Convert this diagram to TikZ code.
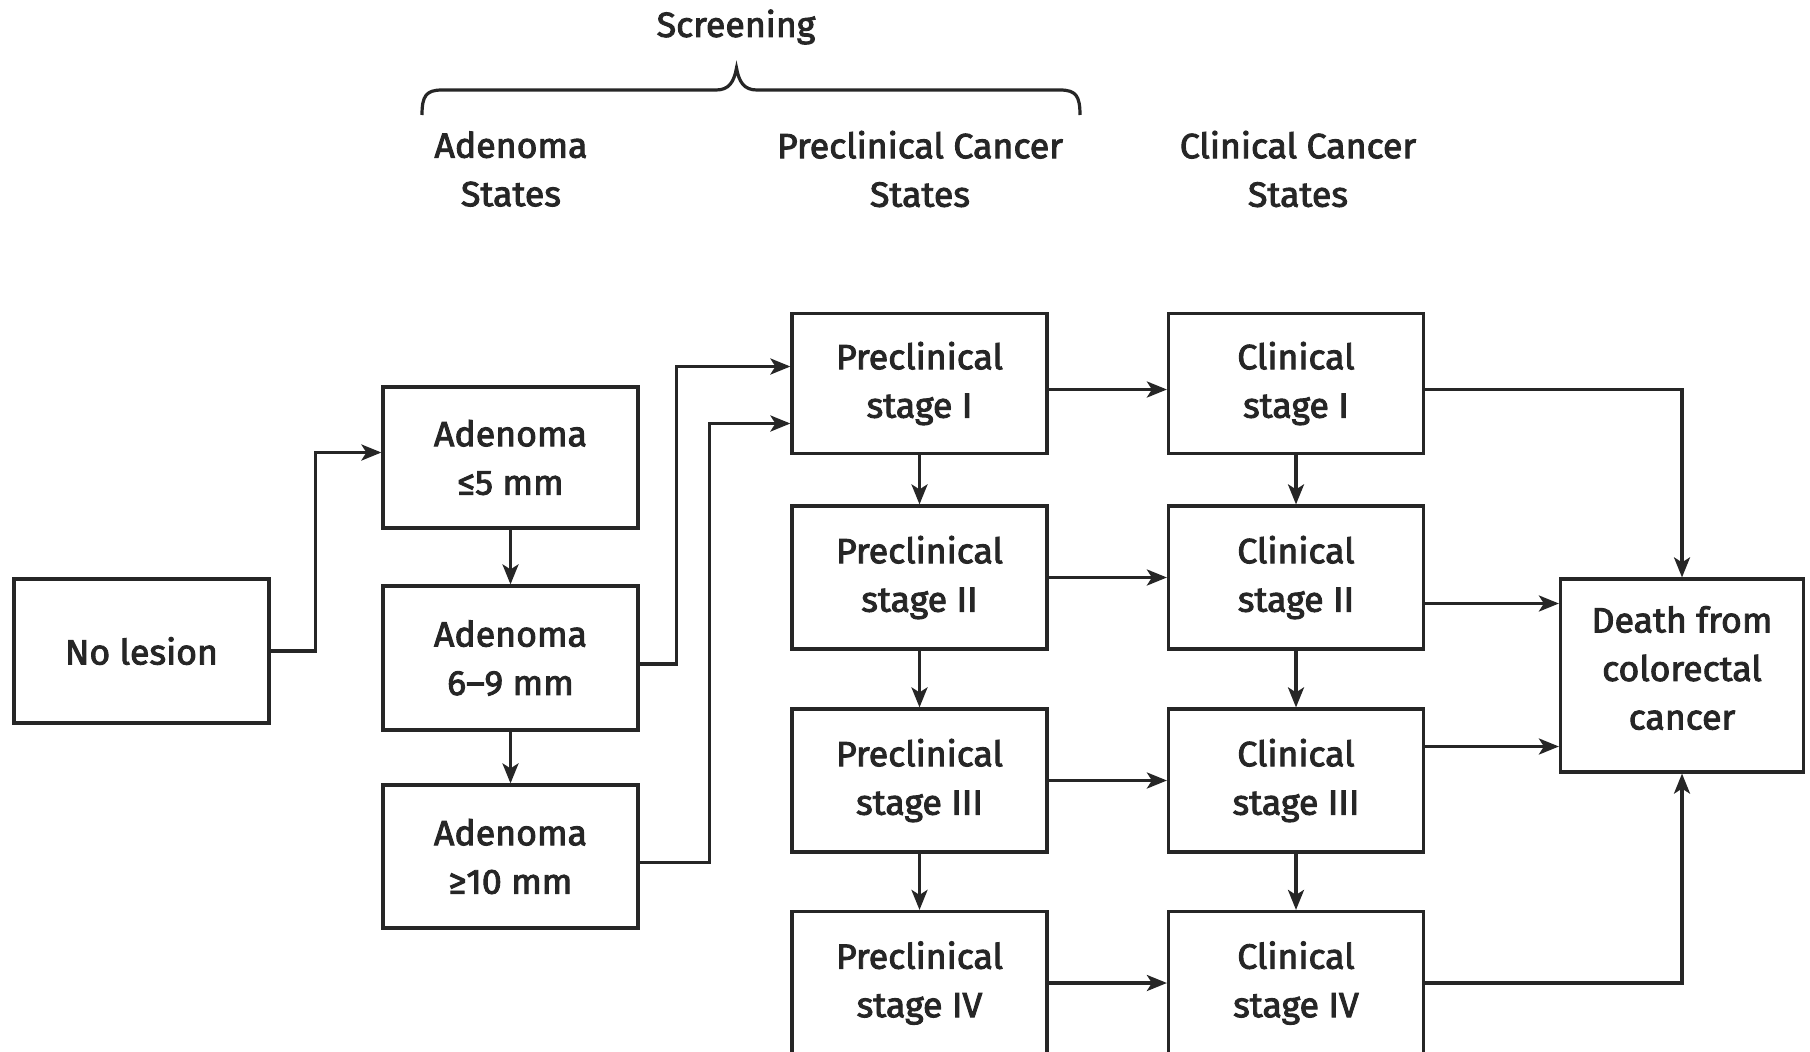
\documentclass[tikz,border=0pt]{standalone}
\usepackage{fontspec}
\setmainfont{Fira Sans}[FakeStretch=1.02,FakeBold=2.6]
\usetikzlibrary{arrows.meta,calc}
\begin{document}
\begin{tikzpicture}[x=1pt,y=-1pt,
  txt/.style={font=\fontsize{35}{48.5}\selectfont, align=center, text=black!85},
  box/.style={txt, draw=black!85, line width=3.2pt, minimum width=255pt, minimum height=142pt, inner sep=0pt},
  arr/.style={draw=black!85, line width=3.2pt, -{Stealth[length=20pt,width=16pt,inset=5pt]}},
  ln/.style={draw=black!85, line width=3.2pt}]
\useasboundingbox (0,0) rectangle (1810,1052);
\clip (0,0) rectangle (1810,1052);
\fill[white] (0,0) rectangle (1810,1052);
% headers
\node[txt] (scr) at (736,27) {Screening};
\node[txt] (hA) at (511,169) {Adenoma\\States};
\node[txt] (hP) at (920,169) {Preclinical Cancer\\States};
\node[txt] (hC) at (1298,169) {Clinical Cancer\\States};
\draw[ln] (422,115) .. controls (422,96) and (426,90) .. (442,90) -- (716,90) .. controls (729,90) and (734,82) .. (736.5,68) .. controls (739,82) and (744,90) .. (757,90) -- (1060,90) .. controls (1076,90) and (1080,96) .. (1080,115);
% boxes
\node[box, minimum height=144pt] (nl) at (141.5,651) {No lesion};
\node[box, minimum height=141pt] (a5) at (510.5,457.5) {Adenoma\\≤5 mm};
\node[box, minimum height=144pt] (a69) at (510.5,658) {Adenoma\\6–9 mm};
\node[box, minimum height=143pt] (a10) at (510.5,856.5) {Adenoma\\≥10 mm};
\node[box, minimum height=140pt] (p1) at (919.5,383.5) {Preclinical\\stage I};
\node[box, minimum height=143pt] (p2) at (919.5,577.5) {Preclinical\\stage II};
\node[box, minimum height=143pt] (p3) at (919.5,780.5) {Preclinical\\stage III};
\node[box, minimum height=143pt] (p4) at (919.5,983) {Preclinical\\stage IV};
\node[box, minimum height=140pt] (c1) at (1296,383.5) {Clinical\\stage I};
\node[box, minimum height=143pt] (c2) at (1296,577.5) {Clinical\\stage II};
\node[box, minimum height=143pt] (c3) at (1296,780.5) {Clinical\\stage III};
\node[box, minimum height=143pt] (c4) at (1296,983) {Clinical\\stage IV};
\node[box, minimum width=243pt, minimum height=193pt] (d) at (1682,675.5) {};
\node[txt] (dt) at (1682,668) {Death from\\colorectal\\cancer};
% connectors
\draw[arr] (nl.east) -- ++(45,0) |- ([yshift=5pt]a5.west);
\draw[arr] (a5) -- (a69);
\draw[arr] (a69) -- (a10);
\draw[arr] ([yshift=-6pt]a69.east) -- ++(37,0) |- ([yshift=17pt]p1.west);
\draw[arr] ([yshift=-6pt]a10.east) -- ++(70,0) |- ([yshift=-40pt]p1.west);
\draw[arr] (p1) -- (p2);
\draw[arr] (p2) -- (p3);
\draw[arr] (p3) -- (p4);
\draw[arr] (c1) -- (c2);
\draw[arr] (c2) -- (c3);
\draw[arr] (c3) -- (c4);
\draw[arr] ([yshift=-6pt]p1.east) -- ([yshift=-6pt]c1.west);
\draw[arr] (p2.east) -- (c2.west);
\draw[arr] (p3.east) -- (c3.west);
\draw[arr] (p4.east) -- (c4.west);
\draw[arr] ([yshift=-6pt]c1.east) -| (d.north);
\draw[arr] ([yshift=-26pt]c2.east) -- ([yshift=-26pt]c2.east -| d.west);
\draw[arr] ([yshift=34pt]c3.east) -- ([yshift=34pt]c3.east -| d.west);
\draw[arr] (c4.east) -| (d.south);
\end{tikzpicture}
\end{document}
